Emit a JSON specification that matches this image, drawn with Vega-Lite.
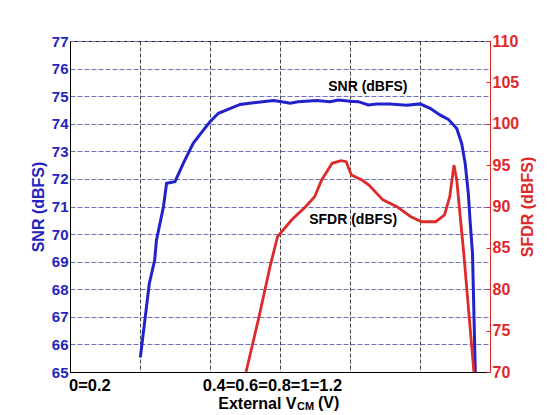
{
  "$schema": "https://vega.github.io/schema/vega-lite/v6.json",
  "width": 420,
  "height": 331,
  "autosize": "none",
  "padding": {"left": 70, "top": 41, "right": 61, "bottom": 43},
  "background": "white",
  "config": {"view": {"stroke": "black", "strokeWidth": 1}, "font": "Liberation Sans"},
  "layer": [
    {
      "layer": [
        {
          "data": {"values": [
            {"v": 0.201, "snr": 65.53}, {"v": 0.2266, "snr": 68.21}, {"v": 0.242, "snr": 69.06}, {"v": 0.247, "snr": 69.78},
            {"v": 0.267, "snr": 70.99}, {"v": 0.276, "snr": 71.84}, {"v": 0.300, "snr": 71.9}, {"v": 0.324, "snr": 72.57},
            {"v": 0.352, "snr": 73.29}, {"v": 0.381, "snr": 73.77}, {"v": 0.400, "snr": 74.07}, {"v": 0.424, "snr": 74.38},
            {"v": 0.448, "snr": 74.5}, {"v": 0.486, "snr": 74.7}, {"v": 0.524, "snr": 74.76}, {"v": 0.581, "snr": 74.84},
            {"v": 0.605, "snr": 74.8}, {"v": 0.629, "snr": 74.74}, {"v": 0.652, "snr": 74.8}, {"v": 0.705, "snr": 74.84},
            {"v": 0.743, "snr": 74.8}, {"v": 0.767, "snr": 74.86}, {"v": 0.800, "snr": 74.82}, {"v": 0.824, "snr": 74.8},
            {"v": 0.852, "snr": 74.68}, {"v": 0.876, "snr": 74.72}, {"v": 0.914, "snr": 74.72}, {"v": 0.962, "snr": 74.67},
            {"v": 1.000, "snr": 74.72}, {"v": 1.029, "snr": 74.56}, {"v": 1.057, "snr": 74.32}, {"v": 1.081, "snr": 74.16},
            {"v": 1.105, "snr": 73.83}, {"v": 1.119, "snr": 73.29}, {"v": 1.129, "snr": 72.57}, {"v": 1.138, "snr": 71.48},
            {"v": 1.143, "snr": 70.5}, {"v": 1.150, "snr": 69.3}, {"v": 1.158, "snr": 65.0}
          ]},
          "mark": {"type": "line", "color": "#2222cc", "strokeWidth": 3},
          "encoding": {
            "x": {
              "field": "v", "type": "quantitative",
              "scale": {"domain": [0, 1.2], "nice": false, "zero": false},
              "axis": {
                "values": [0, 0.2, 0.4, 0.6, 0.8, 1, 1.2],
                "tickCount": 7,
                "labelExpr": "datum.value == 0 ? '0=0.2' : (datum.value == 0.6 ? '0.4=0.6=0.8=1=1.2' : '')",
                "labelFlush": true,
                "labelOverlap": false,
                "labelOffset": {"condition": {"test": "datum.value == 0", "value": -1.5}, "value": -8},
                "labelFont": "Liberation Sans", "labelFontSize": 16.5, "labelFontWeight": "bold", "labelColor": "black",
                "labelBaseline": "alphabetic", "labelPadding": 18,
                "ticks": false,
                "domainColor": "black", "domainWidth": 1,
                "grid": true, "gridColor": "#404040", "gridDash": [4, 2], "gridWidth": 1, "gridOpacity": 1,
                "title": "External V",
                "titleFont": "Liberation Sans", "titleFontSize": 16, "titleFontWeight": "bold", "titleColor": "black",
                "titleAlign": "right", "titleAnchor": null, "titleX": 226, "titleY": 36, "titleBaseline": "alphabetic"
              }
            },
            "y": {
              "field": "snr", "type": "quantitative",
              "scale": {"domain": [65, 77], "nice": false, "zero": false},
              "axis": {
                "orient": "left",
                "values": [65, 66, 67, 68, 69, 70, 71, 72, 73, 74, 75, 76, 77],
                "tickCount": 13,
                "labelOverlap": false,
                "labelFont": "Liberation Sans", "labelFontSize": 15, "labelFontWeight": "bold", "labelColor": "#2424c0",
                "labelPadding": 2, "ticks": false,
                "domainColor": "black", "domainWidth": 1,
                "grid": true, "gridColor": "#7070b8", "gridDash": [5, 2], "gridWidth": 1, "gridOpacity": 1,
                "title": "SNR (dBFS)",
                "titleFont": "Liberation Sans", "titleFontSize": 16, "titleFontWeight": "bold", "titleColor": "#2424c0",
                "titlePadding": 5
              }
            }
          }
        },
        {
          "data": {"values": [
            {"v": 0.851, "snr": 75.33, "label": "SNR (dBFS)"},
            {"v": 0.6486, "snr": 65, "label": "CM"},
            {"v": 0.7086, "snr": 65, "label": "(V)"}
          ]},
          "layer": [
            {
              "transform": [{"filter": "datum.label == 'SNR (dBFS)'"}],
              "mark": {"type": "text", "font": "Liberation Sans", "fontSize": 14, "fontWeight": "bold", "color": "black", "align": "center", "baseline": "middle"},
              "encoding": {"x": {"field": "v", "type": "quantitative"}, "y": {"field": "snr", "type": "quantitative"}, "text": {"field": "label"}}
            },
            {
              "transform": [{"filter": "datum.label == 'CM'"}],
              "mark": {"type": "text", "font": "Liberation Sans", "fontSize": 11, "fontWeight": "bold", "color": "black", "align": "left", "baseline": "alphabetic", "dy": 38},
              "encoding": {"x": {"field": "v", "type": "quantitative"}, "y": {"field": "snr", "type": "quantitative"}, "text": {"field": "label"}}
            },
            {
              "transform": [{"filter": "datum.label == '(V)'"}],
              "mark": {"type": "text", "font": "Liberation Sans", "fontSize": 16, "fontWeight": "bold", "color": "black", "align": "left", "baseline": "alphabetic", "dy": 36},
              "encoding": {"x": {"field": "v", "type": "quantitative"}, "y": {"field": "snr", "type": "quantitative"}, "text": {"field": "label"}}
            }
          ]
        }
      ]
    },
    {
      "layer": [
        {
          "data": {"values": [
            {"v": 0.503, "sfdr": 70}, {"v": 0.538, "sfdr": 76.3}, {"v": 0.573, "sfdr": 83.0}, {"v": 0.593, "sfdr": 86.35},
            {"v": 0.633, "sfdr": 88.37}, {"v": 0.673, "sfdr": 89.98}, {"v": 0.699, "sfdr": 91.18}, {"v": 0.719, "sfdr": 93.2},
            {"v": 0.749, "sfdr": 95.22}, {"v": 0.774, "sfdr": 95.53}, {"v": 0.789, "sfdr": 95.41}, {"v": 0.804, "sfdr": 93.8},
            {"v": 0.834, "sfdr": 93.2}, {"v": 0.854, "sfdr": 92.6}, {"v": 0.894, "sfdr": 90.8}, {"v": 0.934, "sfdr": 89.98},
            {"v": 0.974, "sfdr": 88.77}, {"v": 1.005, "sfdr": 88.16}, {"v": 1.045, "sfdr": 88.16}, {"v": 1.070, "sfdr": 88.97},
            {"v": 1.085, "sfdr": 91.18}, {"v": 1.097, "sfdr": 95.0}, {"v": 1.105, "sfdr": 93.2}, {"v": 1.125, "sfdr": 84.35},
            {"v": 1.154, "sfdr": 70}
          ]},
          "mark": {"type": "line", "color": "#dd2a2a", "strokeWidth": 2.8},
          "encoding": {
            "x": {"field": "v", "type": "quantitative"},
            "y": {
              "field": "sfdr", "type": "quantitative",
              "scale": {"domain": [70, 110], "nice": false, "zero": false},
              "axis": {
                "orient": "right",
                "values": [70, 75, 80, 85, 90, 95, 100, 105, 110],
                "tickCount": 9,
                "labelOverlap": false,
                "labelFont": "Liberation Sans", "labelFontSize": 16, "labelFontWeight": "bold", "labelColor": "#e02828",
                "labelPadding": 6, "ticks": true, "tickSize": -4, "tickColor": "#e02828",
                "domainColor": "#e02828", "domainWidth": 1,
                "grid": false,
                "title": "SFDR (dBFS)",
                "titleFont": "Liberation Sans", "titleFontSize": 16, "titleFontWeight": "bold", "titleColor": "#e02828",
                "titleAngle": 270, "titleBaseline": "top", "titlePadding": 1
              }
            }
          }
        },
        {
          "data": {"values": [{"v": 0.809, "sfdr": 88.37, "label": "SFDR (dBFS)"}]},
          "mark": {"type": "text", "font": "Liberation Sans", "fontSize": 14, "fontWeight": "bold", "color": "black", "align": "center", "baseline": "middle"},
          "encoding": {"x": {"field": "v", "type": "quantitative"}, "y": {"field": "sfdr", "type": "quantitative"}, "text": {"field": "label"}}
        }
      ]
    }
  ],
  "resolve": {"scale": {"y": "independent"}}
}
